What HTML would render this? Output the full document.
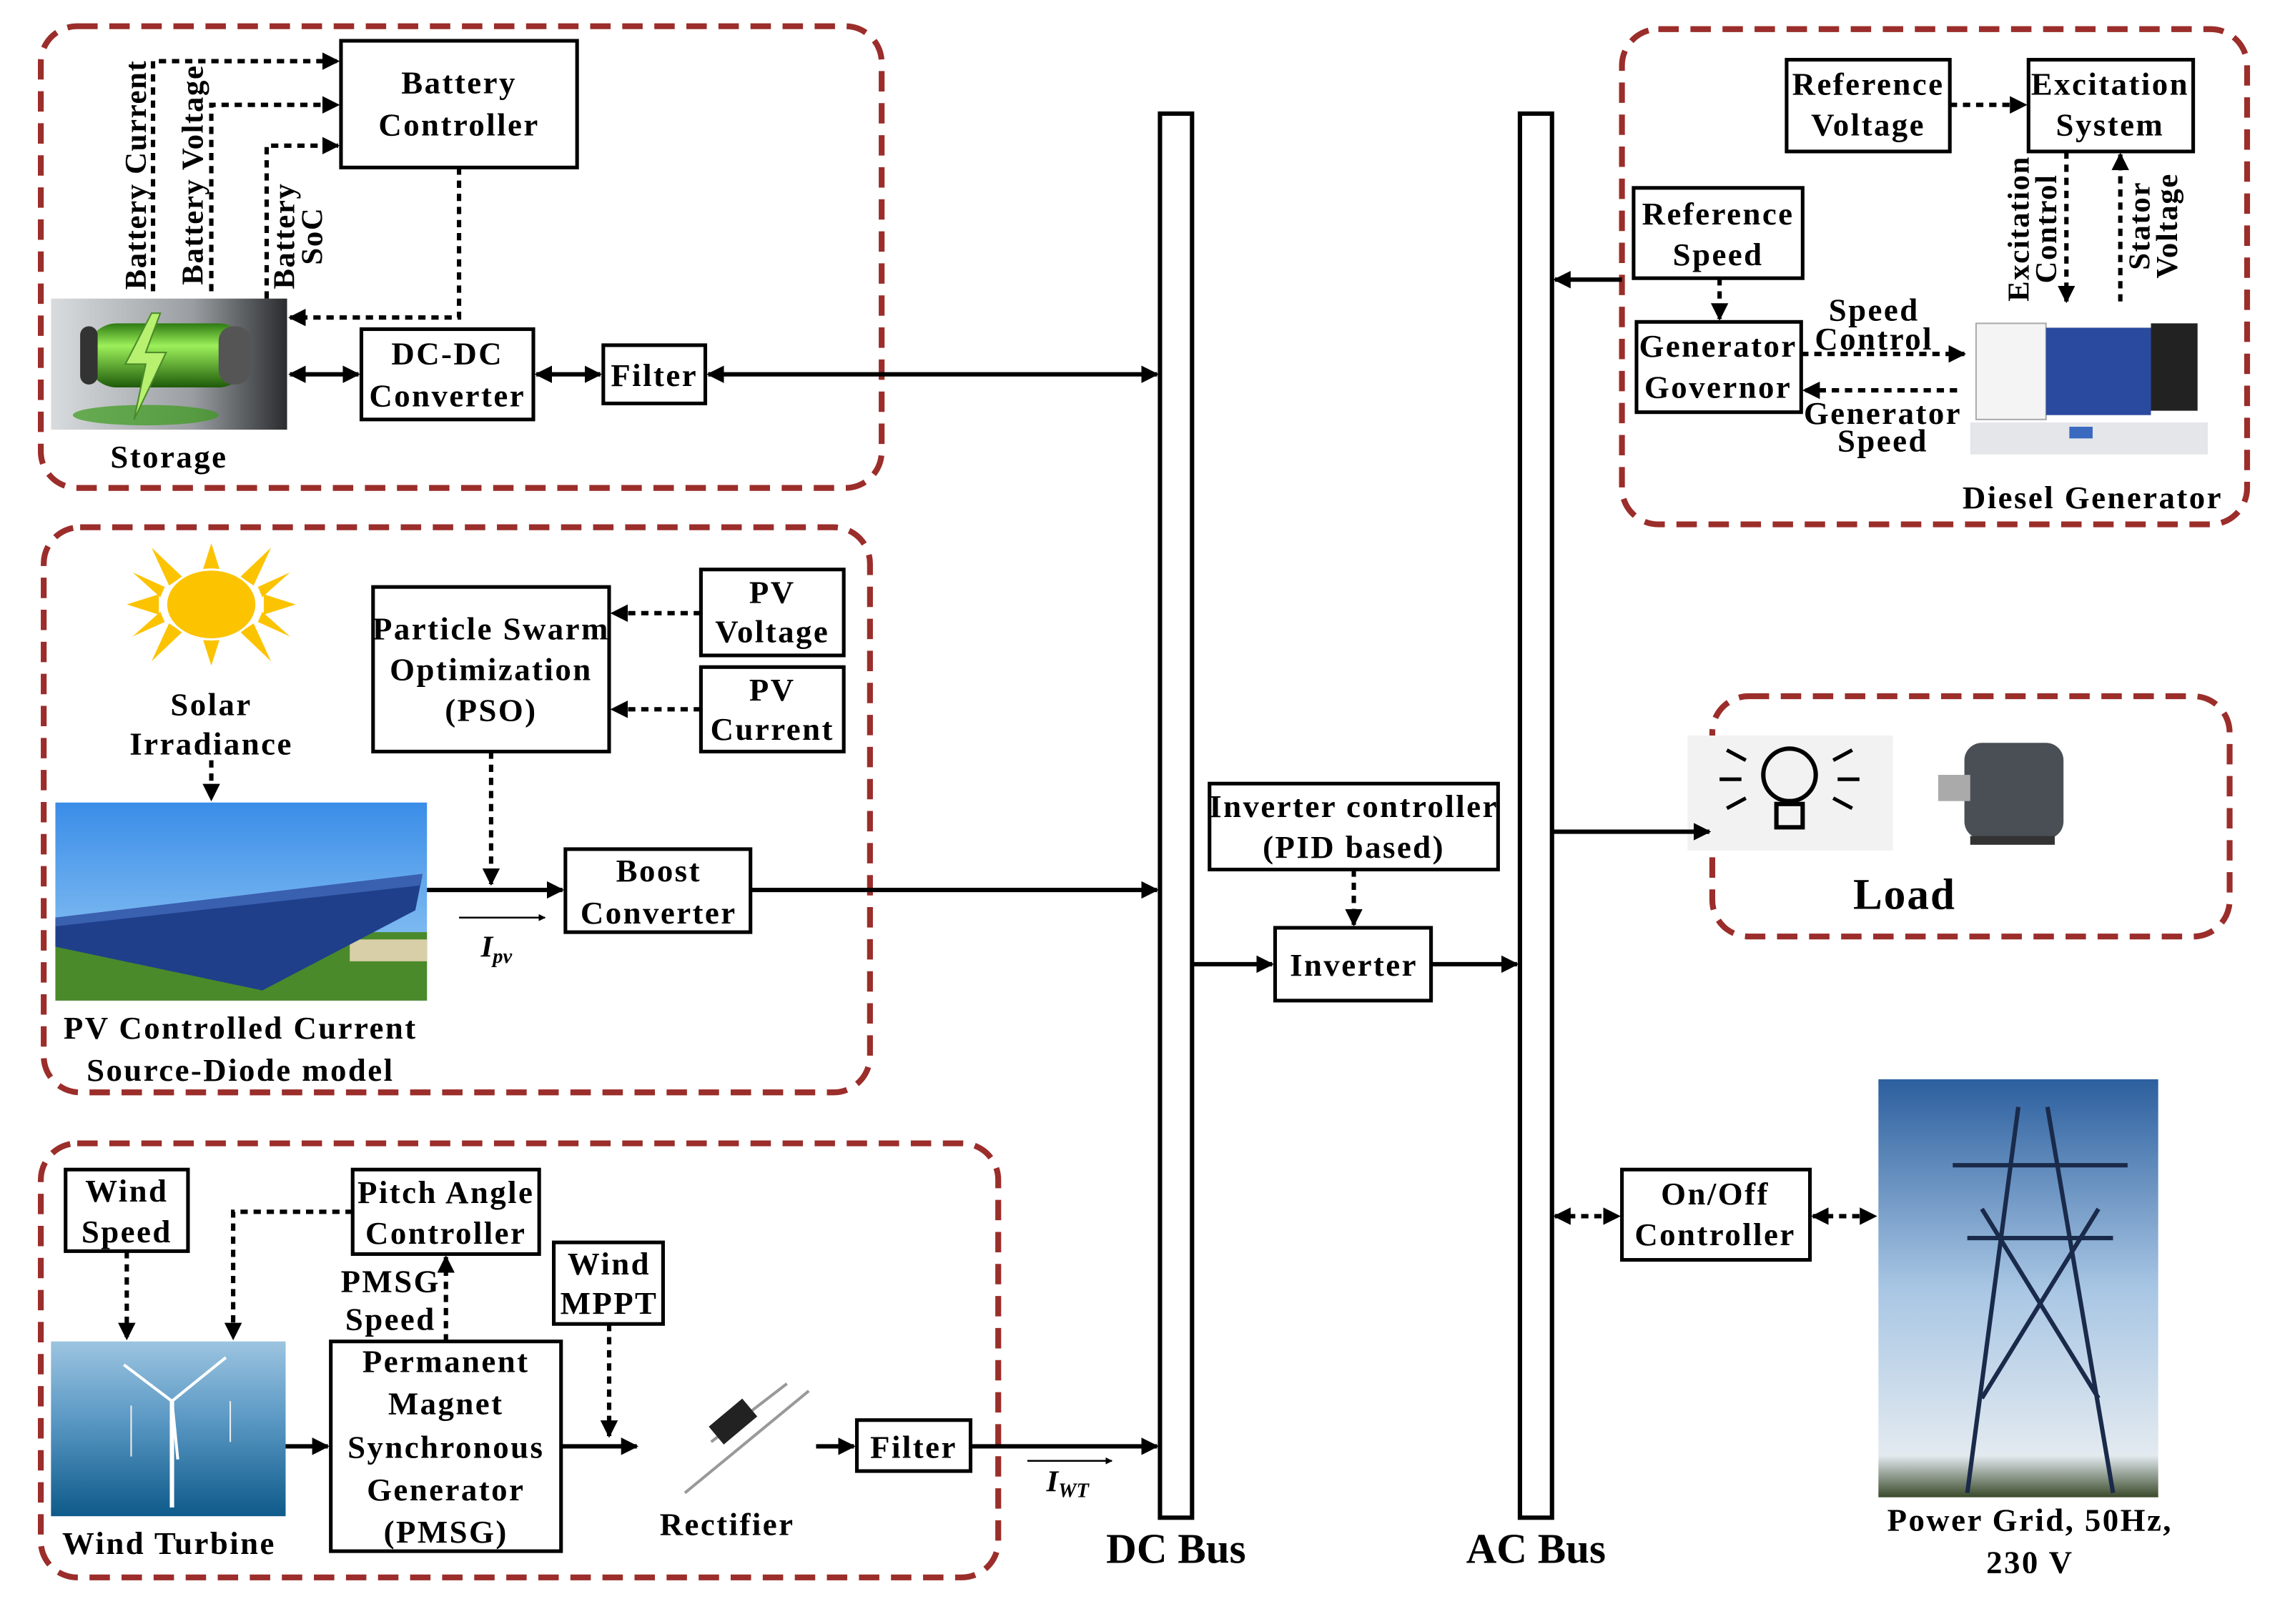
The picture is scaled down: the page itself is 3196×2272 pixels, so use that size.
<!DOCTYPE html>
<html><head><meta charset="utf-8"><style>
html,body{margin:0;padding:0;background:#fff;}
svg{display:block;}
text{font-family:"Liberation Serif",serif;font-weight:bold;fill:#000;}
</style></head><body>
<svg width="3196" height="2272" viewBox="0 0 1568 1115" preserveAspectRatio="none" xmlns="http://www.w3.org/2000/svg">
<defs>
<marker id="a" viewBox="0 0 10 10" refX="9" refY="5" markerWidth="4" markerHeight="4" orient="auto-start-reverse"><path d="M0,0L10,5L0,10z" fill="#000"/></marker>
<linearGradient id="batbg" x1="0" y1="0" x2="1" y2="0"><stop offset="0" stop-color="#d8dcde"/><stop offset="0.6" stop-color="#9a9ea2"/><stop offset="1" stop-color="#2a2c2e"/></linearGradient>
<linearGradient id="cyl" x1="0" y1="0" x2="0" y2="1"><stop offset="0" stop-color="#2e7a12"/><stop offset="0.35" stop-color="#9cf05a"/><stop offset="1" stop-color="#1e5a0a"/></linearGradient>
<linearGradient id="sky" x1="0" y1="0" x2="0" y2="1"><stop offset="0" stop-color="#3a8de8"/><stop offset="1" stop-color="#9fd0f5"/></linearGradient>
<linearGradient id="sea" x1="0" y1="0" x2="0" y2="1"><stop offset="0" stop-color="#9cc4e0"/><stop offset="0.45" stop-color="#5a98c4"/><stop offset="1" stop-color="#0e5a8a"/></linearGradient>
<linearGradient id="grid" x1="0" y1="0" x2="0" y2="1"><stop offset="0" stop-color="#2c5f9e"/><stop offset="0.5" stop-color="#a8c6e4"/><stop offset="0.9" stop-color="#e3eaf0"/><stop offset="1" stop-color="#3a4a2a"/></linearGradient>
</defs>

<g fill="none" stroke="#9b2d2a" stroke-width="4" stroke-dasharray="14,8">
<rect x="28" y="18" width="577" height="317" rx="25"/>
<rect x="30" y="362" width="567" height="388" rx="25"/>
<rect x="28" y="785" width="657" height="298" rx="25"/>
<rect x="1113" y="20" width="429" height="340" rx="25"/>
<rect x="1175" y="478" width="355" height="165" rx="25"/>
</g>

<rect x="796" y="78" width="22" height="964" fill="#fff" stroke="#000" stroke-width="3"/>
<rect x="1043" y="78" width="22" height="964" fill="#fff" stroke="#000" stroke-width="3"/>
<text x="807" y="1073" font-size="29" text-anchor="middle">DC Bus</text>
<text x="1054" y="1073" font-size="29" text-anchor="middle">AC Bus</text>

<g fill="#fff" stroke="#000" stroke-width="2.5">
<rect x="234" y="28" width="162" height="87"/>
<rect x="248" y="226" width="118" height="62"/>
<rect x="414" y="237" width="70" height="40"/>
<rect x="256" y="403" width="162" height="113"/>
<rect x="481" y="391" width="98" height="59"/>
<rect x="481" y="458" width="98" height="58"/>
<rect x="388" y="583" width="127" height="57"/>
<rect x="45" y="803" width="84" height="56"/>
<rect x="242" y="803" width="128" height="58"/>
<rect x="380" y="853" width="75" height="56"/>
<rect x="227" y="921" width="158" height="144"/>
<rect x="588" y="975" width="78" height="35"/>
<rect x="830" y="538" width="198" height="59"/>
<rect x="875" y="637" width="107" height="50"/>
<rect x="1226" y="41" width="112" height="63"/>
<rect x="1392" y="41" width="113" height="63"/>
<rect x="1121" y="129" width="116" height="62"/>
<rect x="1123" y="221" width="113" height="62"/>
<rect x="1113" y="803" width="129" height="62"/>
</g>

<g font-size="22" text-anchor="middle" letter-spacing="1.2">
<text x="315" y="64">Battery</text><text x="315" y="93">Controller</text>
<text x="307" y="250">DC-DC</text><text x="307" y="279">Converter</text>
<text x="449" y="265">Filter</text>
<text x="116" y="321">Storage</text>
<text x="337" y="439">Particle Swarm</text><text x="337" y="467">Optimization</text><text x="337" y="495">(PSO)</text>
<text x="530" y="414">PV</text><text x="530" y="441">Voltage</text>
<text x="530" y="481">PV</text><text x="530" y="508">Current</text>
<text x="452" y="605">Boost</text><text x="452" y="634">Converter</text>
<text x="145" y="491">Solar</text><text x="145" y="518">Irradiance</text>
<text x="165" y="713">PV Controlled Current</text><text x="165" y="742">Source-Diode model</text>
<text x="87" y="825">Wind</text><text x="87" y="853">Speed</text>
<text x="306" y="826">Pitch Angle</text><text x="306" y="854">Controller</text>
<text x="418" y="875">Wind</text><text x="418" y="902">MPPT</text>
<text x="268" y="887">PMSG</text><text x="268" y="913">Speed</text>
<text x="306" y="942">Permanent</text><text x="306" y="971">Magnet</text><text x="306" y="1001">Synchronous</text><text x="306" y="1030">Generator</text><text x="306" y="1059">(PMSG)</text>
<text x="627" y="1001">Filter</text>
<text x="116" y="1067">Wind Turbine</text>
<text x="499" y="1054">Rectifier</text>
<text x="929" y="561">Inverter controller</text><text x="929" y="589">(PID based)</text>
<text x="929" y="670">Inverter</text>
<text x="1282" y="65">Reference</text><text x="1282" y="93">Voltage</text>
<text x="1448" y="65">Excitation</text><text x="1448" y="93">System</text>
<text x="1179" y="154">Reference</text><text x="1179" y="182">Speed</text>
<text x="1179" y="245">Generator</text><text x="1179" y="273">Governor</text>
<text x="1286" y="220">Speed</text><text x="1286" y="240">Control</text>
<text x="1292" y="291">Generator</text><text x="1292" y="310">Speed</text>
<text x="1436" y="349">Diesel Generator</text>
<text x="1393" y="1051">Power Grid, 50Hz,</text><text x="1393" y="1080">230 V</text>
<text x="1177" y="827">On/Off</text><text x="1177" y="855">Controller</text>
</g>
<text x="1307" y="624" font-size="30" text-anchor="middle" letter-spacing="1">Load</text>
<g font-size="21" text-anchor="middle" letter-spacing="0.8">
<text transform="translate(100,120) rotate(-90)">Battery Current</text>
<text transform="translate(139,120) rotate(-90)">Battery Voltage</text>
<text transform="translate(202,162) rotate(-90)">Battery</text>
<text transform="translate(221,162) rotate(-90)">SoC</text>
<text transform="translate(1392,157) rotate(-90)">Excitation</text>
<text transform="translate(1411,157) rotate(-90)">Control</text>
<text transform="translate(1475,155) rotate(-90)">Stator</text>
<text transform="translate(1494,155) rotate(-90)">Voltage</text>
</g>
<text x="330" y="657" font-size="21" font-style="italic">I<tspan font-size="14" dy="4">pv</tspan></text>
<text x="718" y="1024" font-size="21" font-style="italic">I<tspan font-size="14" dy="4">WT</tspan></text>
<line x1="315" y1="630" x2="374" y2="630" stroke="#000" stroke-width="1.2" marker-end="url(#a)"/>
<line x1="705" y1="1003" x2="763" y2="1003" stroke="#000" stroke-width="1.2" marker-end="url(#a)"/>

<rect x="35" y="205" width="162" height="90" fill="url(#batbg)"/>
<rect x="60" y="222" width="110" height="44" rx="20" fill="url(#cyl)"/>
<rect x="55" y="224" width="12" height="40" rx="6" fill="#333"/>
<rect x="150" y="224" width="22" height="40" rx="10" fill="#555"/>
<ellipse cx="100" cy="285" rx="50" ry="7" fill="#3a9a1a" opacity="0.7"/>
<path d="M104,215 L86,250 L100,250 L92,288 L114,242 L100,242 L110,215z" fill="#b8f070" stroke="#4a8a2a"/>
<g fill="#fcc300">
<polygon points="145,373 152,395 138,395"/><polygon points="145,457 152,435 138,435"/>
<polygon points="87,415 109,408 109,422"/><polygon points="203,415 181,408 181,422"/>
<polygon points="104,376 125,396 116,402"/><polygon points="186,376 165,396 174,402"/>
<polygon points="104,454 125,434 116,428"/><polygon points="186,454 165,434 174,428"/>
<polygon points="91,393 113,403 110,410"/><polygon points="199,393 177,403 180,410"/>
<polygon points="91,437 113,427 110,420"/><polygon points="199,437 177,427 180,420"/>
</g>
<ellipse cx="145" cy="415" rx="31" ry="24" fill="#fcc300" stroke="#fff" stroke-width="1.5"/>
<rect x="38" y="551" width="255" height="136" fill="url(#sky)"/>
<rect x="38" y="640" width="255" height="47" fill="#4a8a2a"/>
<rect x="240" y="645" width="53" height="15" fill="#d8cfa8"/>
<polygon points="38,630 290,600 285,625 180,680 38,650" fill="#1f3f8a"/>
<polygon points="38,630 290,600 288,608 38,636" fill="#3a60b0"/>
<rect x="35" y="921" width="161" height="120" fill="url(#sea)"/>
<line x1="118" y1="962" x2="118" y2="1035" stroke="#fff" stroke-width="3"/>
<path d="M118,962 L85,937 M118,962 L155,932 M118,962 L122,1002" stroke="#fff" stroke-width="2"/>
<line x1="90" y1="965" x2="90" y2="1000" stroke="#eee" stroke-width="1"/>
<line x1="158" y1="962" x2="158" y2="990" stroke="#eee" stroke-width="1"/>
<path d="M488,990 L540,950 M470,1025 L555,955" stroke="#999" stroke-width="2"/>
<rect x="488" y="968" width="30" height="16" fill="#222" transform="rotate(-40 503 976)"/>
<rect x="1352" y="290" width="163" height="22" fill="#e4e6ea"/>
<rect x="1356" y="222" width="48" height="66" fill="#f4f4f4" stroke="#aaa"/>
<rect x="1404" y="225" width="72" height="60" fill="#2a4aa0"/>
<rect x="1476" y="222" width="32" height="60" fill="#222"/>
<rect x="1420" y="293" width="16" height="8" fill="#3a6ac0"/>
<rect x="1158" y="505" width="141" height="79" fill="#f2f2f2"/>
<circle cx="1228" cy="532" r="18" fill="none" stroke="#000" stroke-width="3"/>
<rect x="1219" y="552" width="18" height="16" fill="none" stroke="#000" stroke-width="3"/>
<path d="M1185,515 L1198,522 M1271,515 L1258,522 M1180,535 L1195,535 M1276,535 L1261,535 M1185,555 L1198,548 M1271,555 L1258,548" stroke="#000" stroke-width="2.5"/>
<rect x="1348" y="510" width="68" height="66" rx="12" fill="#4a4e55"/>
<rect x="1330" y="532" width="22" height="18" fill="#aaa"/>
<rect x="1352" y="574" width="58" height="6" fill="#333"/>
<rect x="1289" y="741" width="192" height="287" fill="url(#grid)"/>
<path d="M1385,760 L1350,1025 M1405,760 L1450,1025 M1340,800 L1460,800 M1350,850 L1450,850 M1360,830 L1440,960 M1440,830 L1360,960" stroke="#1a2a4a" stroke-width="3" fill="none"/>

<g stroke="#000" stroke-width="3" fill="none">
<line x1="199" y1="257" x2="246" y2="257" marker-start="url(#a)" marker-end="url(#a)"/>
<line x1="368" y1="257" x2="412" y2="257" marker-start="url(#a)" marker-end="url(#a)"/>
<line x1="486" y1="257" x2="794" y2="257" marker-start="url(#a)" marker-end="url(#a)"/>
<line x1="293" y1="611" x2="386" y2="611" marker-end="url(#a)"/>
<line x1="515" y1="611" x2="794" y2="611" marker-end="url(#a)"/>
<line x1="196" y1="993" x2="225" y2="993" marker-end="url(#a)"/>
<line x1="385" y1="993" x2="437" y2="993" marker-end="url(#a)"/>
<line x1="560" y1="993" x2="586" y2="993" marker-end="url(#a)"/>
<line x1="666" y1="993" x2="794" y2="993" marker-end="url(#a)"/>
<line x1="818" y1="662" x2="873" y2="662" marker-end="url(#a)"/>
<line x1="982" y1="662" x2="1041" y2="662" marker-end="url(#a)"/>
<line x1="1065" y1="571" x2="1173" y2="571" marker-end="url(#a)"/>
<line x1="1113" y1="192" x2="1067" y2="192" marker-end="url(#a)"/>
</g>
<g stroke="#000" stroke-width="3" fill="none" stroke-dasharray="5,4">
<polyline points="105,200 105,42 232,42" marker-end="url(#a)"/>
<polyline points="145,200 145,72 232,72" marker-end="url(#a)"/>
<polyline points="183,205 183,100 232,100" marker-end="url(#a)"/>
<polyline points="315,115 315,218 199,218" marker-end="url(#a)"/>
<line x1="145" y1="522" x2="145" y2="549" marker-end="url(#a)"/>
<line x1="337" y1="516" x2="337" y2="607" marker-end="url(#a)"/>
<line x1="481" y1="421" x2="420" y2="421" marker-end="url(#a)"/>
<line x1="481" y1="487" x2="420" y2="487" marker-end="url(#a)"/>
<line x1="87" y1="859" x2="87" y2="919" marker-end="url(#a)"/>
<polyline points="242,832 160,832 160,919" marker-end="url(#a)"/>
<line x1="306" y1="921" x2="306" y2="863" marker-end="url(#a)"/>
<line x1="418" y1="909" x2="418" y2="986" marker-end="url(#a)"/>
<line x1="929" y1="597" x2="929" y2="635" marker-end="url(#a)"/>
<line x1="1338" y1="72" x2="1390" y2="72" marker-end="url(#a)"/>
<line x1="1418" y1="104" x2="1418" y2="207" marker-end="url(#a)"/>
<line x1="1455" y1="207" x2="1455" y2="106" marker-end="url(#a)"/>
<line x1="1180" y1="191" x2="1180" y2="219" marker-end="url(#a)"/>
<line x1="1236" y1="243" x2="1348" y2="243" marker-end="url(#a)"/>
<line x1="1343" y1="268" x2="1238" y2="268" marker-end="url(#a)"/>
<line x1="1067" y1="835" x2="1111" y2="835" marker-start="url(#a)" marker-end="url(#a)"/>
<line x1="1244" y1="835" x2="1287" y2="835" marker-start="url(#a)" marker-end="url(#a)"/>
</g>
</svg>
</body></html>
